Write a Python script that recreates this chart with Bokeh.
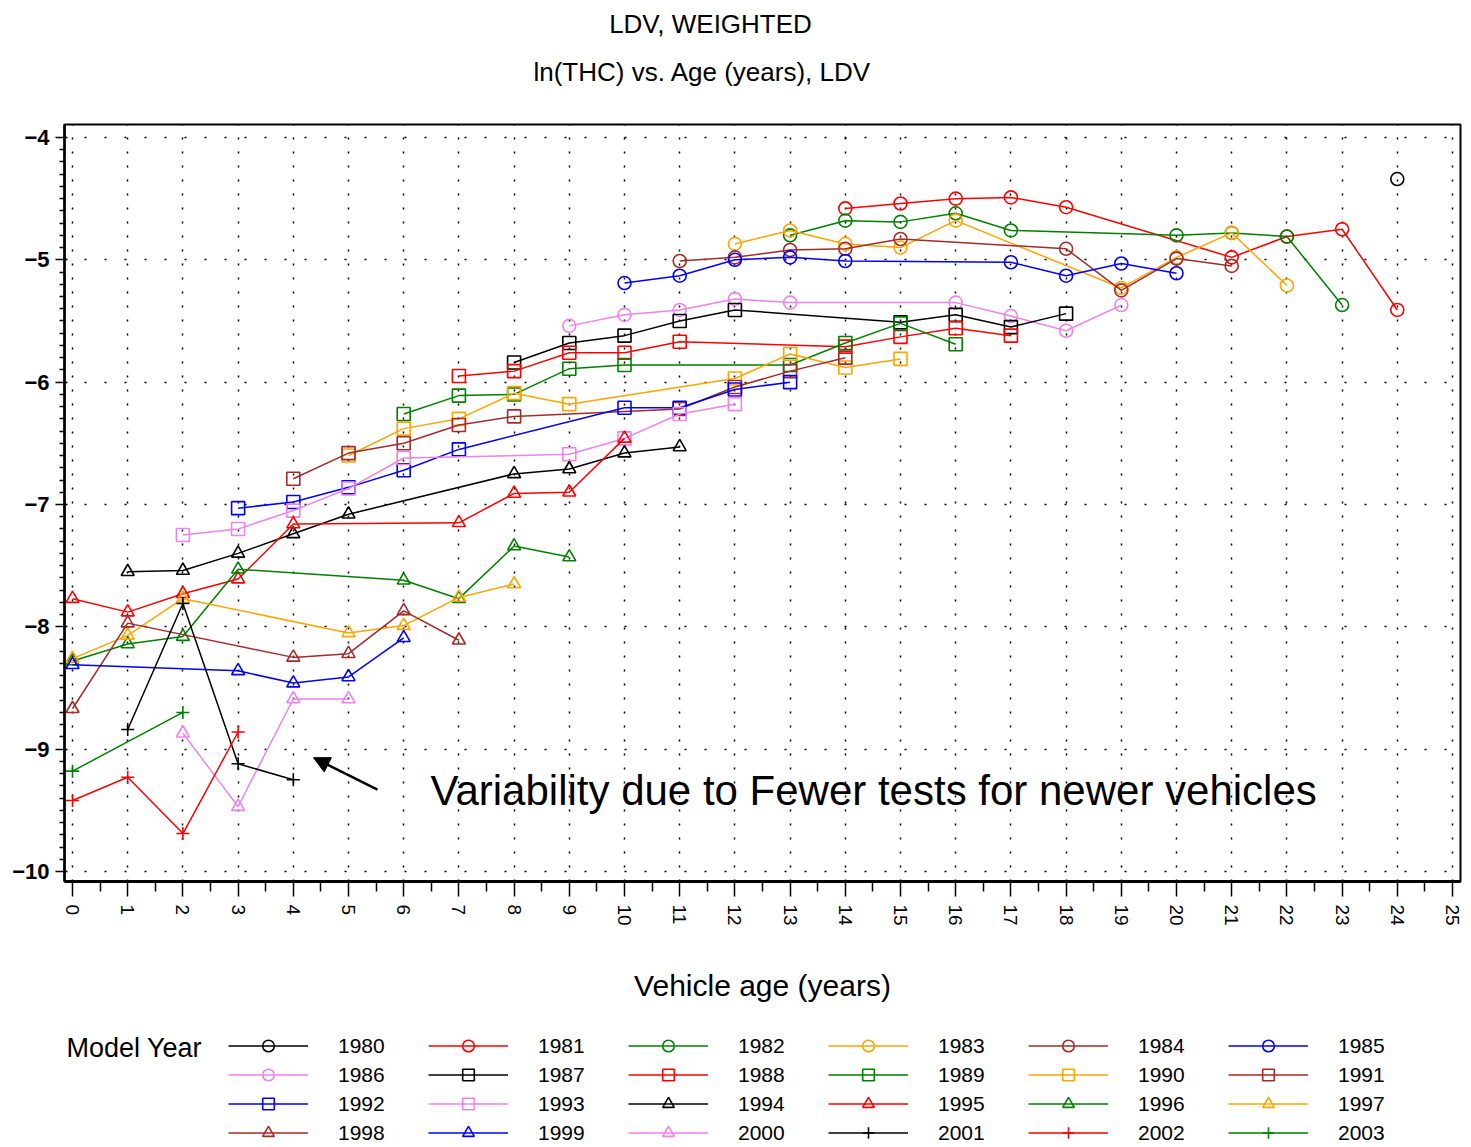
import math
from bokeh.plotting import figure
from bokeh.layouts import column
from bokeh.models import (Range1d, FixedTicker, Legend, LegendItem, Label,
                          Arrow, NormalHead)
from bokeh.embed import file_html
from bokeh.resources import INLINE

# ---------------- data ----------------
model_years = ["1980", "1981", "1982", "1983", "1984", "1985", "1986",
               "1987", "1988", "1989", "1990", "1991", "1992", "1993",
               "1994", "1995", "1996", "1997", "1998", "1999", "2000",
               "2001", "2002", "2003"]

age_1980 = [24]
thc_1980 = [-4.34]
age_1981 = [14, 15, 16, 17, 18, 21, 22, 23, 24]
thc_1981 = [-4.58, -4.54, -4.50, -4.49, -4.57, -4.98, -4.81, -4.75, -5.41]
age_1982 = [13, 14, 15, 16, 17, 20, 21, 22, 23]
thc_1982 = [-4.80, -4.68, -4.69, -4.62, -4.76, -4.80, -4.78, -4.81, -5.37]
age_1983 = [12, 13, 14, 15, 16, 19, 20, 21, 22]
thc_1983 = [-4.87, -4.76, -4.87, -4.90, -4.68, -5.23, -4.98, -4.78, -5.21]
age_1984 = [11, 12, 13, 14, 15, 18, 19, 20, 21]
thc_1984 = [-5.01, -4.98, -4.92, -4.91, -4.83, -4.91, -5.25, -4.99, -5.05]
age_1985 = [10, 11, 12, 13, 14, 17, 18, 19, 20]
thc_1985 = [-5.19, -5.13, -5.00, -4.98, -5.01, -5.02, -5.13, -5.03, -5.11]
age_1986 = [9, 10, 11, 12, 13, 16, 17, 18, 19]
thc_1986 = [-5.54, -5.45, -5.41, -5.32, -5.35, -5.35, -5.46, -5.58, -5.37]
age_1987 = [8, 9, 10, 11, 12, 15, 16, 17, 18]
thc_1987 = [-5.84, -5.68, -5.62, -5.50, -5.41, -5.51, -5.45, -5.55, -5.44]
age_1988 = [7, 8, 9, 10, 11, 14, 15, 16, 17]
thc_1988 = [-5.95, -5.91, -5.76, -5.76, -5.67, -5.71, -5.63, -5.56, -5.62]
age_1989 = [6, 7, 8, 9, 10, 13, 14, 15, 16]
thc_1989 = [-6.26, -6.11, -6.10, -5.89, -5.86, -5.86, -5.68, -5.52, -5.69]
age_1990 = [5, 6, 7, 8, 9, 12, 13, 14, 15]
thc_1990 = [-6.60, -6.38, -6.30, -6.09, -6.18, -5.97, -5.77, -5.88, -5.81]
age_1991 = [4, 5, 6, 7, 8, 11, 12, 13, 14]
thc_1991 = [-6.79, -6.58, -6.50, -6.35, -6.28, -6.22, -6.04, -5.91, -5.80]
age_1992 = [3, 4, 5, 6, 7, 10, 11, 12, 13]
thc_1992 = [-7.03, -6.98, -6.86, -6.72, -6.55, -6.21, -6.21, -6.06, -6.00]
age_1993 = [2, 3, 4, 5, 6, 9, 10, 11, 12]
thc_1993 = [-7.25, -7.20, -7.05, -6.87, -6.62, -6.59, -6.46, -6.26, -6.18]
age_1994 = [1, 2, 3, 4, 5, 8, 9, 10, 11]
thc_1994 = [-7.55, -7.54, -7.40, -7.24, -7.08, -6.75, -6.71, -6.58, -6.53]
age_1995 = [0, 1, 2, 3, 4, 7, 8, 9, 10]
thc_1995 = [-7.77, -7.88, -7.73, -7.61, -7.16, -7.15, -6.91, -6.90, -6.46]
age_1996 = [0, 1, 2, 3, 6, 7, 8, 9]
thc_1996 = [-8.28, -8.14, -8.08, -7.53, -7.62, -7.77, -7.34, -7.43]
age_1997 = [0, 1, 2, 5, 6, 7, 8]
thc_1997 = [-8.26, -8.07, -7.77, -8.05, -7.99, -7.76, -7.65]
age_1998 = [0, 1, 4, 5, 6, 7]
thc_1998 = [-8.67, -7.97, -8.25, -8.22, -7.87, -8.11]
age_1999 = [0, 3, 4, 5, 6]
thc_1999 = [-8.31, -8.36, -8.46, -8.41, -8.09]
age_2000 = [2, 3, 4, 5]
thc_2000 = [-8.87, -9.47, -8.59, -8.59]
age_2001 = [1, 2, 3, 4]
thc_2001 = [-8.84, -7.81, -9.12, -9.25]
age_2002 = [0, 1, 2, 3]
thc_2002 = [-9.42, -9.23, -9.69, -8.86]
age_2003 = [0, 2]
thc_2003 = [-9.18, -8.70]

series_ages = [age_1980, age_1981, age_1982, age_1983, age_1984, age_1985,
               age_1986, age_1987, age_1988, age_1989, age_1990, age_1991,
               age_1992, age_1993, age_1994, age_1995, age_1996, age_1997,
               age_1998, age_1999, age_2000, age_2001, age_2002, age_2003]
series_thc = [thc_1980, thc_1981, thc_1982, thc_1983, thc_1984, thc_1985,
              thc_1986, thc_1987, thc_1988, thc_1989, thc_1990, thc_1991,
              thc_1992, thc_1993, thc_1994, thc_1995, thc_1996, thc_1997,
              thc_1998, thc_1999, thc_2000, thc_2001, thc_2002, thc_2003]

x_ticks = list(range(0, 26))
y_ticks = list(range(-10, -3))

title_line1 = "LDV, WEIGHTED"
title_line2 = "ln(THC) vs. Age (years), LDV"
x_title = "Vehicle age (years)"
legend_title = "Model Year"
note_text = "Variability due to Fewer tests for newer vehicles"

# ---------------- styles ----------------
palette = ["#000000", "#FF0000", "#008000", "#FFA500", "#A52A2A",
           "#0000FF", "#EE82EE"]
marker_groups = ["circle", "square", "triangle", "cross"]
SANS = "Liberation Sans"
W = 1471
TOP_H = 88
LEG_H = 117
MAIN_H = 1147 - TOP_H - LEG_H


def strip(height, y_top, y_bottom):
    """A frame-only strip whose data units are page pixels."""
    f = figure(width=W, height=height, x_range=Range1d(64, 1460),
               y_range=Range1d(y_bottom, y_top), output_backend="svg",
               toolbar_location=None, x_axis_location=None,
               y_axis_location=None, min_border_left=64,
               min_border_right=11, min_border_top=0, min_border_bottom=0)
    f.outline_line_color = None
    f.grid.visible = False
    f.background_fill_color = "white"
    f.border_fill_color = "white"
    return f


# ---------------- title strip ----------------
top = strip(TOP_H, 0, TOP_H)
top.add_layout(Label(x=710, y=23, text=title_line1, text_align="center",
                     text_baseline="middle", text_font=SANS,
                     text_font_size="26px", text_color="black"))
top.add_layout(Label(x=702, y=71, text=title_line2, text_align="center",
                     text_baseline="middle", text_font=SANS,
                     text_font_size="26px", text_color="black"))

# ---------------- main plot ----------------
p = figure(width=W, height=MAIN_H,
           x_range=Range1d(-0.145, 25.145),
           y_range=Range1d(-10.082, -3.894),
           output_backend="svg", toolbar_location=None,
           min_border_left=64, min_border_top=124 - TOP_H,
           min_border_right=11, min_border_bottom=(1147 - LEG_H) - 881)
p.background_fill_color = "white"
p.border_fill_color = "white"
p.outline_line_color = "black"
p.outline_line_width = 2

xa = p.xaxis[0]
xa.ticker = FixedTicker(ticks=x_ticks,
                        minor_ticks=[t + 0.5 for t in x_ticks[:-1]])
xa.major_label_orientation = -math.pi / 2
xa.major_tick_out = 15
xa.major_tick_in = 0
xa.minor_tick_out = 10
xa.minor_tick_in = 0
xa.major_tick_line_width = 1.5
xa.minor_tick_line_width = 1.5
xa.axis_line_width = 3
xa.major_label_standoff = 8
xa.major_label_text_font = SANS
xa.major_label_text_font_size = "19px"
xa.major_label_text_color = "black"
xa.axis_label = x_title
xa.axis_label_text_font = SANS
xa.axis_label_text_font_size = "30px"
xa.axis_label_text_font_style = "normal"
xa.axis_label_text_color = "black"
xa.axis_label_standoff = 40

ya = p.yaxis[0]
ya.ticker = FixedTicker(ticks=y_ticks,
                        minor_ticks=[round(t + k / 10, 1)
                                     for t in y_ticks[:-1] for k in range(1, 10)])
ya.major_label_overrides = {t: "\u2212" + str(-t) for t in y_ticks}
ya.major_tick_out = 9
ya.major_tick_in = 3
ya.minor_tick_out = 5
ya.minor_tick_in = 0
ya.major_tick_line_width = 1.5
ya.minor_tick_line_width = 1.5
ya.axis_line_width = 2.5
ya.major_label_standoff = 6
ya.major_label_text_font = SANS
ya.major_label_text_font_style = "bold"
ya.major_label_text_font_size = "22px"
ya.major_label_text_color = "black"

p.xgrid.grid_line_color = "black"
p.xgrid.grid_line_dash = "2 12"
p.xgrid.grid_line_width = 1.5
p.ygrid.grid_line_color = "black"
p.ygrid.grid_line_dash = "2 18"
p.ygrid.grid_line_width = 1.5

for i, yr in enumerate(model_years):
    c = palette[i % 7]
    m = marker_groups[i // 7]
    p.line(series_ages[i], series_thc[i], line_color=c, line_width=1.5)
    p.scatter(series_ages[i], series_thc[i], marker=m, size=13,
              fill_color=None, line_color=c, line_width=1.6)

p.add_layout(Label(x=6.486, y=-9.341, text=note_text, text_align="left",
                   text_baseline="middle", text_font=SANS,
                   text_font_size="42px", text_color="black"))
p.add_layout(Arrow(end=NormalHead(size=16, fill_color="black", line_color="black"),
                   x_start=5.525, y_start=-9.331, x_end=4.366, y_end=-9.070,
                   line_color="black", line_width=2.5))

# ---------------- legend strip ----------------
# The same series are drawn here again (they fall outside this strip's
# visible range, so only their legend samples show).
lf = strip(LEG_H, 1147 - LEG_H, 1147)
items = []
for i, yr in enumerate(model_years):
    c = palette[i % 7]
    m = marker_groups[i // 7]
    r_line = lf.line(series_ages[i], series_thc[i], line_color=c, line_width=1.5)
    r_mark = lf.scatter(series_ages[i], series_thc[i], marker=m, size=13,
                        fill_color=None, line_color=c, line_width=1.6)
    items.append(LegendItem(label=yr, renderers=[r_line, r_mark]))

legend = Legend(items=items, location=(164, 0), orientation="horizontal",
                ncols=6, glyph_width=80, glyph_height=29, label_height=29,
                label_width=90, label_standoff=30, spacing=0, padding=0,
                margin=0, border_line_color=None, background_fill_alpha=0,
                label_text_font=SANS, label_text_font_size="21px",
                label_text_color="black")
lf.add_layout(legend)
lf.add_layout(Label(x=66, y=1047, text=legend_title, text_align="left",
                    text_baseline="middle", text_font=SANS,
                    text_font_size="27px", text_color="black"))

layout = column(top, p, lf, spacing=0)
open("out.html", "w").write(file_html(layout, INLINE))
